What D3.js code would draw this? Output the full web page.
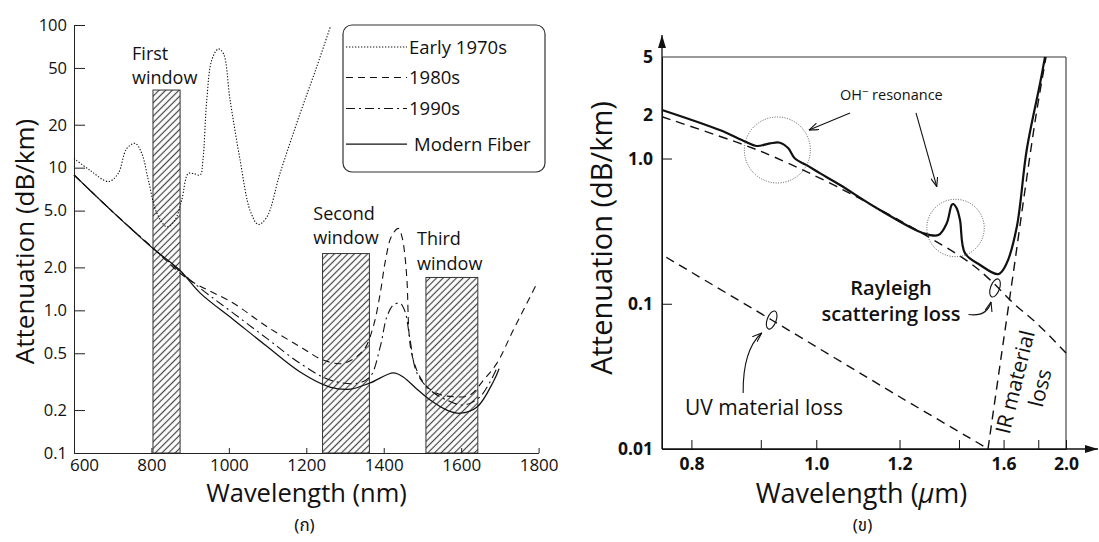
<!DOCTYPE html>
<html>
<head>
<meta charset="utf-8">
<script src="https://cdn.jsdelivr.net/npm/d3@7/dist/d3.min.js"></script>
<style>
  body { margin: 0; background: #fff; }
  svg text { font-family: "Open Sans", "Noto Sans", sans-serif; fill: #111; }
  .thai { font-family: "Noto Sans Thai", "Noto Serif Thai", "Loma", "Garuda", "Norasi", serif; }
</style>
</head>
<body>
<div id="chart"></div>
<script>
/*
 * Data, left panel: wavelength (nm) vs attenuation (dB/km)
 */
const early1970s = [[600, 11.6], [641, 9.6], [689, 8.0], [714, 9.1], [736, 13.6], [758, 14.8], [775, 12.6],
  [792, 8.2], [814, 4.8], [840, 3.85], [861, 4.3], [878, 5.9], [895, 9.1], [908, 9.1], [926, 8.9],
  [933, 11.3], [943, 30], [956, 57], [973, 68], [986, 63], [1003, 30], [1029, 11.3], [1055, 5.0],
  [1076, 4.0], [1098, 4.5], [1132, 9.1], [1184, 24], [1227, 51], [1262, 97]]
const fiber1980s = [[600, 8.9], [700, 4.9], [805, 2.72], [891, 1.68], [1012, 1.12], [1098, 0.77], [1184, 0.556],
  [1244, 0.448], [1296, 0.425], [1348, 0.527], [1373, 0.77], [1391, 1.32], [1404, 2.2], [1420, 3.3],
  [1438, 3.75], [1448, 3.2], [1455, 2.37], [1460, 1.63], [1472, 0.5], [1503, 0.31], [1537, 0.262],
  [1580, 0.248], [1623, 0.255], [1658, 0.325], [1692, 0.425], [1735, 0.73], [1796, 1.55]]
const fiber1990s = [[600, 8.9], [700, 4.9], [805, 2.72], [926, 1.43], [1012, 0.953], [1098, 0.636], [1184, 0.425],
  [1261, 0.325], [1331, 0.308], [1365, 0.343], [1391, 0.556], [1408, 0.9], [1425, 1.09], [1442, 1.12],
  [1455, 0.98], [1468, 0.62], [1486, 0.362], [1520, 0.276], [1563, 0.235], [1606, 0.217], [1649, 0.248],
  [1692, 0.392]]
const modernFiber = [[600, 8.9], [700, 4.9], [805, 2.7], [874, 1.9], [926, 1.32], [1012, 0.86], [1098, 0.56],
  [1184, 0.37], [1261, 0.29], [1313, 0.28], [1365, 0.31], [1425, 0.365], [1451, 0.34], [1486, 0.28],
  [1520, 0.235], [1563, 0.2], [1597, 0.19], [1641, 0.21], [1684, 0.32], [1698, 0.39]]

// transmission windows: from / to wavelength (nm), top (dB/km)
const windowNames = ['First', 'Second', 'Third']
const windowFrom = [804, 1242, 1509]
const windowTo = [874, 1363, 1643]
const windowTop = [35, 2.5, 1.7]
const windowLabelAt = [[750, 57], [1218, 4.3], [1486, 2.85]]

const leftYTicks = [0.1, 0.2, 0.5, 1, 2, 5, 10, 20, 50, 100]
const leftYTickLabels = ['0.1', '0.2', '0.5', '1.0', '2.0', '5.0', '10', '20', '50', '100']
const leftXTicks = [600, 800, 1000, 1200, 1400, 1600, 1800]
const legendNames = ['Early 1970s', '1980s', '1990s', 'Modern Fiber']

/*
 * Data, right panel: wavelength (um) vs attenuation (dB/km)
 */
const totalLoss = [[0.764, 2.16], [0.838, 1.57], [0.875, 1.31], [0.893, 1.22], [0.915, 1.27], [0.932, 1.285],
  [0.947, 1.175], [0.959, 1.0], [0.981, 0.9], [1.008, 0.79], [1.05, 0.657], [1.146, 0.442], [1.273, 0.306],
  [1.3235, 0.297], [1.3535, 0.358], [1.372, 0.479], [1.378, 0.486], [1.391, 0.454], [1.404, 0.377],
  [1.424, 0.223], [1.488, 0.185], [1.574, 0.16], [1.616, 0.19], [1.671, 0.339], [1.728, 1.145],
  [1.812, 3.3], [1.845, 5.0]]
const rayleighLoss = [[0.764, 1.94], [0.8675, 1.27], [0.921, 1.03], [1.05, 0.624], [1.295, 0.284],
  [1.4447, 0.191], [1.534, 0.146], [1.6515, 0.101], [1.79, 0.0734], [2.0, 0.0458]]
const uvLoss = [[0.769, 0.209], [0.918, 0.0773], [1.2, 0.0229], [1.526, 0.01]]
const irLoss = [[1.524, 0.01], [1.582, 0.038], [1.65, 0.158], [1.718, 0.607], [1.786, 1.99], [1.852, 5.0]]

const rightYTicks = [0.01, 0.1, 1, 2, 5]
const rightYTickLabels = ['0.01', '0.1', '1.0', '2', '5']
const rightXTicks = [0.8, 0.9, 1.0, 1.2, 1.4, 1.6, 1.8, 2.0]
const rightXLabeled = [0.8, 1.0, 1.2, 1.6, 2.0]

// annotation anchors (um, dB/km)
const ohCircleCenters = [[0.9277, 1.145], [1.3866, 0.3324]]
const ohLabelAt = [1.05, 2.53]
const ohArrows = [[[1.0725, 2.06], [0.9857, 1.57]], [[1.2495, 2.06], [1.318, 0.64]]]
const uvLoopAt = [0.918, 0.0773]
const uvLabelAt = [0.7919, 0.01714]
const rayleighLoopAt = [1.5574, 0.1284]
const rayleighLabelAt = [1.176, 0.1149]
const irLabelAt = [[1.661, 0.0289], [1.8116, 0.0263]]


/*
 * SVG + defs
 */
const svg = d3.select('#chart')
  .append('svg')
  .attr('width', 1099)
  .attr('height', 542)

const defs = svg.append('defs')

const hatch = defs.append('pattern')
  .attr('id', 'hatch')
  .attr('patternUnits', 'userSpaceOnUse')
  .attr('width', 4.7)
  .attr('height', 4.7)
  .attr('patternTransform', 'rotate(45)')
hatch.append('rect').attr('width', 4.7).attr('height', 4.7).attr('fill', '#fff')
hatch.append('line')
  .attr('x1', 2.35).attr('x2', 2.35).attr('y1', 0).attr('y2', 4.7)
  .attr('stroke', '#444').attr('stroke-width', 1.2)

defs.append('marker')
  .attr('id', 'arrowSolid')
  .attr('viewBox', '0 0 13 8')
  .attr('refX', 13).attr('refY', 4)
  .attr('markerWidth', 13).attr('markerHeight', 8)
  .attr('markerUnits', 'userSpaceOnUse')
  .attr('orient', 'auto')
  .append('path').attr('d', 'M0,0L13,4L0,8Z').attr('fill', '#111')

defs.append('marker')
  .attr('id', 'arrowOpen')
  .attr('viewBox', '0 0 10 8')
  .attr('refX', 9.5).attr('refY', 4)
  .attr('markerWidth', 10).attr('markerHeight', 8)
  .attr('markerUnits', 'userSpaceOnUse')
  .attr('orient', 'auto')
  .append('path').attr('d', 'M0,0.5L9.5,4L0,7.5')
  .attr('fill', 'none').attr('stroke', '#111').attr('stroke-width', 1.1)


/*
 * Left panel
 */
const xL = d3.scaleLinear().domain([600, 1800]).range([74, 538.6])
const yL = d3.scaleLog().domain([0.1, 100]).range([453, 25])

const left = svg.append('g')

const windows = windowNames.map((name, i) => ({
  name: name, from: windowFrom[i], to: windowTo[i], top: windowTop[i], labelAt: windowLabelAt[i]
}))

left.selectAll('rect.window')
  .data(windows)
  .enter()
  .append('rect')
  .attr('class', 'window')
  .attr('x', d => xL(d.from))
  .attr('y', d => yL(d.top))
  .attr('width', d => xL(d.to) - xL(d.from))
  .attr('height', d => yL(0.1) - yL(d.top))
  .attr('fill', 'url(#hatch)')
  .attr('stroke', '#333')
  .attr('stroke-width', 1)

windows.forEach(w => {
  const t = left.append('text')
    .attr('x', xL(w.labelAt[0]))
    .attr('y', yL(w.labelAt[1]))
    .style('font-size', '18px')
  t.append('tspan').text(w.name)
  t.append('tspan').attr('x', xL(w.labelAt[0])).attr('dy', 24.5).text('window')
})

// axes
const gyL = left.append('g')
  .attr('transform', `translate(${xL(600)},0)`)
  .attr('color', '#222')
  .call(d3.axisLeft(yL)
    .tickValues(leftYTicks)
    .tickFormat((d, i) => leftYTickLabels[i])
    .tickSizeInner(-11)
    .tickSizeOuter(0)
    .tickPadding(7))
gyL.selectAll('text').style('font-size', '16.5px')

const gxL = left.append('g')
  .attr('transform', `translate(0,${yL(0.1)})`)
  .attr('color', '#222')
  .call(d3.axisBottom(xL)
    .tickValues(leftXTicks)
    .tickFormat(d3.format('d'))
    .tickSizeInner(-5)
    .tickSizeOuter(0)
    .tickPadding(5.5))
gxL.selectAll('text').style('font-size', '17px')
gxL.selectAll('text').filter(d => d === 600).attr('dx', 10)

// curves
const lineL = d3.line()
  .x(d => xL(d[0]))
  .y(d => yL(d[1]))
  .curve(d3.curveCatmullRom.alpha(0.5))

const leftSeries = [
  { values: early1970s, dash: '1.3,1.7', width: 1.1 },
  { values: fiber1980s, dash: '7,5', width: 1.1 },
  { values: fiber1990s, dash: '9,4,2,4', width: 1.1 },
  { values: modernFiber, dash: null, width: 1.25 }
]

left.selectAll('path.series')
  .data(leftSeries)
  .enter()
  .append('path')
  .attr('class', 'series')
  .attr('d', d => lineL(d.values))
  .attr('fill', 'none')
  .attr('stroke', '#111')
  .attr('stroke-width', d => d.width)
  .attr('stroke-dasharray', d => d.dash)

// legend
const legend = left.append('g')
legend.append('rect')
  .attr('x', 343).attr('y', 25)
  .attr('width', 202).attr('height', 147)
  .attr('rx', 9)
  .attr('fill', 'none')
  .attr('stroke', '#333')
  .attr('stroke-width', 1.2)

const legendRowY = [47, 77.5, 108.5, 144]
legendNames.forEach((name, i) => {
  legend.append('line')
    .attr('x1', 346).attr('x2', 407)
    .attr('y1', legendRowY[i]).attr('y2', legendRowY[i])
    .attr('stroke', '#111')
    .attr('stroke-width', leftSeries[i].width)
    .attr('stroke-dasharray', leftSeries[i].dash)
  legend.append('text')
    .attr('x', i === 3 ? 414 : 409)
    .attr('y', legendRowY[i] + 6.6)
    .style('font-size', '18.5px')
    .text(name)
})

// titles
left.append('text')
  .attr('transform', 'translate(33.5,241.5) rotate(-90)')
  .attr('text-anchor', 'middle')
  .style('font-size', '26px')
  .text('Attenuation (dB/km)')

left.append('text')
  .attr('x', 306.5).attr('y', 502)
  .attr('text-anchor', 'middle')
  .style('font-size', '25.5px')
  .text('Wavelength (nm)')

left.append('text')
  .attr('class', 'thai')
  .attr('x', 304.5).attr('y', 531)
  .attr('text-anchor', 'middle')
  .style('font-size', '17px')
  .text('(ก)')


/*
 * Right panel
 */
const xR = d3.scalePow().exponent(-1).domain([0.764, 2.0]).range([662, 1066])
const yR = d3.scaleLog().domain([0.01, 5]).range([449, 57])

const right = svg.append('g')

// frame
right.append('line')
  .attr('x1', xR(0.764)).attr('x2', xR(2.0))
  .attr('y1', yR(5)).attr('y2', yR(5))
  .attr('stroke', '#777').attr('stroke-width', 1.6)
right.append('line')
  .attr('x1', xR(2.0)).attr('x2', xR(2.0))
  .attr('y1', yR(0.01)).attr('y2', yR(5))
  .attr('stroke', '#222').attr('stroke-width', 1)

const gyR = right.append('g')
  .attr('transform', `translate(${xR(0.764)},0)`)
  .attr('color', '#111')
  .call(d3.axisLeft(yR)
    .tickValues(rightYTicks)
    .tickFormat((d, i) => rightYTickLabels[i])
    .tickSizeInner(-10)
    .tickSizeOuter(0)
    .tickPadding(9))
gyR.selectAll('.tick line').filter(d => d > 1).remove()
gyR.selectAll('text').style('font-size', '17.5px').style('font-weight', 700)

const gxR = right.append('g')
  .attr('transform', `translate(0,${yR(0.01)})`)
  .attr('color', '#111')
  .call(d3.axisBottom(xR)
    .tickValues(rightXTicks)
    .tickFormat(d => rightXLabeled.includes(d) ? d3.format('.1f')(d) : '')
    .tickSizeInner(-9)
    .tickSizeOuter(0)
    .tickPadding(9))
gxR.selectAll('text').style('font-size', '17.5px').style('font-weight', 700)

// axis arrows
right.append('line')
  .attr('x1', xR(0.764)).attr('x2', xR(0.764))
  .attr('y1', yR(0.01)).attr('y2', 35)
  .attr('stroke', '#111').attr('stroke-width', 1.3)
  .attr('marker-end', 'url(#arrowSolid)')
right.append('line')
  .attr('x1', xR(0.764)).attr('x2', 1098)
  .attr('y1', yR(0.01)).attr('y2', yR(0.01))
  .attr('stroke', '#111').attr('stroke-width', 1.3)
  .attr('marker-end', 'url(#arrowSolid)')

// curves
const lineR = d3.line()
  .x(d => xR(d[0]))
  .y(d => yR(d[1]))
  .curve(d3.curveCatmullRom.alpha(0.5))

const rightSeries = [
  { values: rayleighLoss, dash: '9,6', width: 1.4 },
  { values: uvLoss, dash: '9,6', width: 1.4 },
  { values: irLoss, dash: '9,6', width: 1.4 },
  { values: totalLoss, dash: null, width: 2.2 }
]

right.selectAll('path.series')
  .data(rightSeries)
  .enter()
  .append('path')
  .attr('class', 'series')
  .attr('d', d => lineR(d.values))
  .attr('fill', 'none')
  .attr('stroke', '#111')
  .attr('stroke-width', d => d.width)
  .attr('stroke-dasharray', d => d.dash)

// OH- resonance annotation
const ohRadius = [33, 28.7]
right.selectAll('circle.oh')
  .data(ohCircleCenters)
  .enter()
  .append('circle')
  .attr('class', 'oh')
  .attr('cx', d => xR(d[0]))
  .attr('cy', d => yR(d[1]))
  .attr('r', (d, i) => ohRadius[i])
  .attr('fill', 'none')
  .attr('stroke', '#555')
  .attr('stroke-width', 1)
  .attr('stroke-dasharray', '1,1.5')

const ohText = right.append('text')
  .attr('x', xR(ohLabelAt[0]))
  .attr('y', yR(ohLabelAt[1]))
  .style('font-size', '14.5px')
ohText.append('tspan').text('OH')
ohText.append('tspan').attr('dy', -5).style('font-size', '11px').text('\u2212')
ohText.append('tspan').attr('dy', 5).text(' resonance')

right.selectAll('line.oharrow')
  .data(ohArrows)
  .enter()
  .append('line')
  .attr('class', 'oharrow')
  .attr('x1', d => xR(d[0][0])).attr('y1', d => yR(d[0][1]))
  .attr('x2', d => xR(d[1][0])).attr('y2', d => yR(d[1][1]))
  .attr('stroke', '#111')
  .attr('stroke-width', 1.1)
  .attr('marker-end', 'url(#arrowOpen)')

// little loops with curved pointers
function loopPointer(at, start, ctrl, end) {
  const x = xR(at[0])
  const y = yR(at[1])
  right.append('ellipse')
    .attr('transform', `translate(${x},${y}) rotate(20)`)
    .attr('rx', 4.5).attr('ry', 9.5)
    .attr('fill', 'none')
    .attr('stroke', '#111')
    .attr('stroke-width', 1.1)
  right.append('path')
    .attr('d', `M${x + start[0]},${y + start[1]}Q${x + ctrl[0]},${y + ctrl[1]} ${x + end[0]},${y + end[1]}`)
    .attr('fill', 'none')
    .attr('stroke', '#111')
    .attr('stroke-width', 1.1)
    .attr('marker-end', 'url(#arrowOpen)')
}
loopPointer(uvLoopAt, [-28.5, 73], [-29, 30], [-10, 13])
loopPointer(rayleighLoopAt, [-26.5, 26.5], [-8, 29], [-4, 14])

right.append('text')
  .attr('x', xR(uvLabelAt[0]))
  .attr('y', yR(uvLabelAt[1]))
  .style('font-size', '21px')
  .text('UV material loss')

const rayText = right.append('text')
  .attr('x', xR(rayleighLabelAt[0]))
  .attr('y', yR(rayleighLabelAt[1]))
  .attr('text-anchor', 'middle')
  .style('font-size', '20px')
  .style('font-weight', 600)
rayText.append('tspan').text('Rayleigh')
rayText.append('tspan').attr('x', xR(rayleighLabelAt[0])).attr('dy', 26.5).text('scattering loss')

const irTexts = ['IR material', 'loss']
irTexts.forEach((txt, i) => {
  right.append('text')
    .attr('transform', `translate(${xR(irLabelAt[i][0])},${yR(irLabelAt[i][1])}) rotate(-76)`)
    .attr('text-anchor', 'middle')
    .attr('dy', '0.35em')
    .style('font-size', '21px')
    .text(txt)
})

// titles
right.append('text')
  .attr('transform', 'translate(612,238) rotate(-90)')
  .attr('text-anchor', 'middle')
  .style('font-size', '29px')
  .text('Attenuation (dB/km)')

const xTitleR = right.append('text')
  .attr('x', 861.5).attr('y', 503)
  .attr('text-anchor', 'middle')
  .style('font-size', '27px')
xTitleR.append('tspan').text('Wavelength (')
xTitleR.append('tspan').style('font-style', 'italic').text('\u03bc')
xTitleR.append('tspan').text('m)')

right.append('text')
  .attr('class', 'thai')
  .attr('x', 862.5).attr('y', 531)
  .attr('text-anchor', 'middle')
  .style('font-size', '17px')
  .text('(ข)')
</script>
</body>
</html>
